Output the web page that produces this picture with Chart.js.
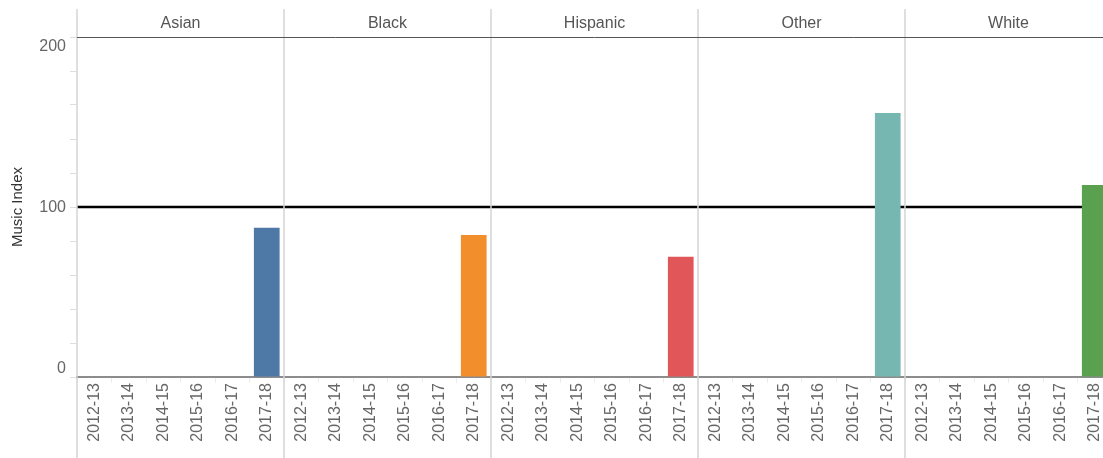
<!DOCTYPE html>
<html>
<head>
<meta charset="utf-8">
<script src="https://cdn.jsdelivr.net/npm/chart.js@4.4.1/dist/chart.umd.min.js"></script>
<style>
  html, body { margin: 0; background: #fff; overflow: hidden; width: 1103px; height: 458px; }
  canvas { display: block; }
</style>
</head>
<body>
<canvas id="musicChart" width="1112" height="458"></canvas>
<script>
var groups = ['Asian', 'Black', 'Hispanic', 'Other', 'White'];
var years = ['2012-13', '2013-14', '2014-15', '2015-16', '2016-17', '2017-18'];
var asianVals    = [null, null, null, null, null, 87.8];
var blackVals    = [null, null, null, null, null, 83.5];
var hispanicVals = [null, null, null, null, null, 70.8];
var otherVals    = [null, null, null, null, null, 155.3];
var whiteVals    = [null, null, null, null, null, 112.9];
var yTickLabels  = [0, 100, 200];
var refValue     = 100;
var colors = ['#4e79a7', '#f28e2b', '#e15759', '#76b7b2', '#59a14f'];

var fontFam = '"Liberation Sans", Arial, sans-serif';

function buildLabels(){
	var out = [];
	groups.forEach(function(){ years.forEach(function(y){ out.push(y); }); });
	return out;
}
function buildData(vals, gi){
	var out = [];
	for (var i = 0; i < groups.length * years.length; i++) {
		var g = Math.floor(i / years.length);
		out.push(g === gi ? vals[i % years.length] : null);
	}
	return out;
}

var allVals = [asianVals, blackVals, hispanicVals, otherVals, whiteVals];
var datasets = allVals.map(function(v, gi){
	return {
		label: groups[gi],
		data: buildData(v, gi),
		backgroundColor: colors[gi],
		categoryPercentage: 1,
		barPercentage: 0.745,
		grouped: false
	};
});

// pane dividers, header strip, ref line, y labels
var facetPlugin = {
	id: 'facets',
	beforeDatasetsDraw: function(chart){
		var ctx = chart.ctx, ca = chart.chartArea;
		var y = chart.scales.y;
		ctx.save();
		// reference line
		var ry = y.getPixelForValue(refValue);
		ctx.strokeStyle = '#000';
		ctx.lineWidth = 2.5;
		ctx.beginPath(); ctx.moveTo(ca.left, ry); ctx.lineTo(ca.right, ry); ctx.stroke();
		ctx.restore();
	},
	afterDatasetsDraw: function(chart){
		var ctx = chart.ctx, ca = chart.chartArea;
		var x = chart.scales.x, y = chart.scales.y;
		var n = years.length;
		ctx.save();
		var edges = [ca.left];
		for (var g = 1; g < groups.length; g++) {
			edges.push((x.getPixelForValue(g * n - 1) + x.getPixelForValue(g * n)) / 2);
		}
		edges.push(ca.right);
		// dividers
		ctx.strokeStyle = '#d4d4d4';
		ctx.lineWidth = 1.5;
		for (var i = 0; i < edges.length - 1; i++) {
			ctx.beginPath(); ctx.moveTo(edges[i], 9); ctx.lineTo(edges[i], chart.height); ctx.stroke();
		}
		// header line
		ctx.strokeStyle = '#555';
		ctx.lineWidth = 1;
		ctx.beginPath(); ctx.moveTo(ca.left, ca.top + 0.5); ctx.lineTo(ca.right, ca.top + 0.5); ctx.stroke();
		// header texts
		ctx.fillStyle = '#555';
		ctx.font = '16px ' + fontFam;
		ctx.textAlign = 'center';
		ctx.textBaseline = 'middle';
		for (var j = 0; j < groups.length; j++) {
			ctx.fillText(groups[j], (edges[j] + edges[j + 1]) / 2, 23.5);
		}
		// y tick labels, kept inside pane like the original
		ctx.fillStyle = '#666';
		ctx.textAlign = 'right';
		yTickLabels.forEach(function(v){
			var py = y.getPixelForValue(v);
			py = Math.min(Math.max(py, ca.top + 9), ca.bottom - 9);
			ctx.fillText(String(v), 66, py + 0.5);
		});
		ctx.restore();
	}
};

var chart = new Chart(document.getElementById('musicChart'), {
	type: 'bar',
	data: { labels: buildLabels(), datasets: datasets },
	options: {
		responsive: false,
		animation: false,
		devicePixelRatio: 1,
		layout: { padding: { top: 37, right: 0, left: 0, bottom: 0 } },
		plugins: { legend: { display: false }, tooltip: { enabled: false } },
		scales: {
			x: {
				afterFit: function(s){ s.height = 81; s.paddingLeft = 0; s.paddingRight = 0; },
				border: { display: true, color: '#8c8c8c', width: 2 },
				grid: { drawOnChartArea: false, drawTicks: true, tickLength: 6, color: '#ececec', offset: true },
				ticks: {
					autoSkip: false, minRotation: 90, maxRotation: 90, padding: 0,
					color: '#666', font: { family: fontFam, size: 16 }
				}
			},
			y: {
				min: 0, max: 200,
				afterFit: function(s){ s.width = 77; },
				border: { display: false },
				grid: { drawOnChartArea: false, drawTicks: true, tickLength: 7, color: '#dedede' },
				ticks: { stepSize: 20, callback: function(){ return ''; } },
				title: {
					display: true, text: 'Music Index', color: '#333',
					font: { family: fontFam, size: 15 }, padding: { top: 9, bottom: 0 }
				}
			}
		}
	},
	plugins: [facetPlugin]
});
</script>
</body>
</html>
